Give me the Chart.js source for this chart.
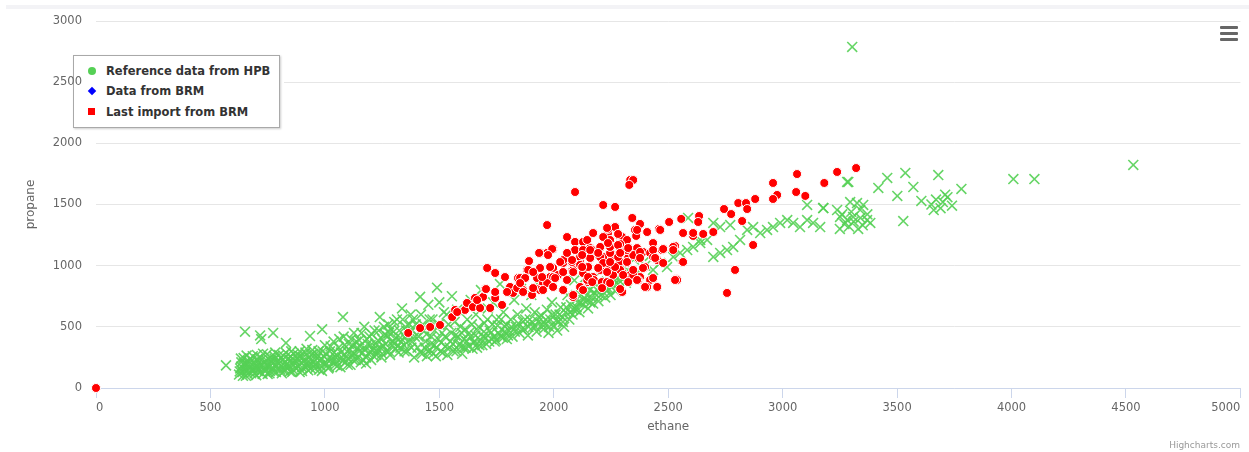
<!DOCTYPE html>
<html>
<head>
<meta charset="utf-8">
<script src="https://cdn.jsdelivr.net/npm/chart.js@4"></script>
<style>
  body { margin: 0; background: #fff; font-family: "DejaVu Sans", sans-serif; }
  #wrap { position: relative; width: 1249px; height: 452px; }
  #chart { position: absolute; left: 0; top: 0; z-index: 1; }
  #topband { position: absolute; left: 6px; right: 0; top: 5px; height: 4px; background: #f3f3f6; }
  #legend {
    position: absolute; left: 73px; top: 55px; width: 205px; height: 71px; z-index: 0;
    border: 1px solid #a9a9a9; background: #fff; box-shadow: 1px 1px 2px rgba(0,0,0,0.2);
    font: bold 11.5px "DejaVu Sans", sans-serif; color: #333;
  }
  .item { position: absolute; left: 14px; height: 16px; line-height: 16px; }
  .item span.sym { position: absolute; left: 0; top: 4px; width: 8px; height: 8px; }
  .item span.txt { position: absolute; left: 18px; white-space: nowrap; }
  #menu { position: absolute; left: 1220px; top: 26px; width: 18px; z-index: 2; }
  #menu div { height: 3px; background: #666; margin-bottom: 3px; border-radius: 1px; }
  #credits { position: absolute; right: 9px; top: 440px; font: 9px "DejaVu Sans", sans-serif; color: #999; z-index: 2; }
</style>
</head>
<body>
<div id="wrap">
  <div id="topband"></div>
  <div id="legend"></div>
  <canvas id="chart" width="1249" height="452"></canvas>
  <div id="menu"><div></div><div></div><div></div></div>
  <div id="credits">Highcharts.com</div>
</div>
<script>
// series names and colours
const seriesNames = ["Reference data from HPB", "Data from BRM", "Last import from BRM"];
const seriesColors = ["#55d055", "#0000ff", "#ff0000"];

// axis ticks
const xTicks = [0, 500, 1000, 1500, 2000, 2500, 3000, 3500, 4000, 4500, 5000];
const yTicks = [0, 500, 1000, 1500, 2000, 2500, 3000];

// [ethane, propane]
const hpbData = [
  [568,185],[651,460],[717,430],[722,400],[774,450],[830,368],[935,425],[988,480],
  [625,110],[630,160],[635,210],[640,130],[645,245],[650,185],[655,100],[660,140],[665,220],[672,170],
  [678,120],[685,260],[690,150],[695,200],[700,105],[705,235],[712,160],[718,130],[725,190],[730,280],
  [738,145],[745,225],[750,115],[757,170],[763,250],[770,200],[776,135],[783,290],[790,180],[797,230],
  [805,150],[812,120],[818,265],[825,205],[832,170],[840,240],[847,135],[853,300],[860,190],[868,225],
  [875,160],[882,270],[890,130],[897,210],[905,250],[912,175],[920,320],[927,145],[935,230],[942,195],
  [950,280],[957,160],[965,245],[972,300],[980,185],[987,140],[995,260],[1000,350],
  [660,190],[700,180],[740,190],[780,240],[820,160],[860,150],[900,170],[940,270],[980,220],[635,175],
  [710,210],[760,140],[800,200],[850,260],[890,300],[930,190],
  [628,135],[633,240],[642,100],[648,205],[653,150],[658,265],[663,115],[668,195],[675,240],[680,150],
  [688,210],[693,120],[698,165],[703,270],[708,140],[715,185],[720,250],[728,115],[733,210],[740,160],
  [747,275],[752,190],[758,120],[765,220],[772,165],[779,260],[786,130],[793,210],[800,270],[808,180],
  [815,230],[822,140],[829,290],[836,200],[843,170],[850,225],[857,130],[864,280],[871,200],[878,240],
  [885,175],[893,260],[900,140],[908,220],[915,290],[923,180],[930,250],[938,160],[945,310],[953,215],
  [960,190],[968,270],[975,150],[983,240],[990,300],[997,200],
  [1008,200],[1015,160],[1022,300],[1030,240],[1038,380],[1045,190],[1052,270],[1060,330],[1068,170],
  [1075,250],[1082,420],[1090,210],[1097,300],[1105,360],[1112,190],[1120,270],[1127,450],[1135,230],
  [1142,330],[1150,390],[1157,210],[1165,290],[1172,500],[1180,250],[1187,360],[1195,420],[1202,230],
  [1210,310],[1217,470],[1225,270],[1232,390],[1240,580],[1247,250],[1255,340],[1262,440],[1270,300],
  [1277,520],[1285,270],[1292,380],[1300,460],[1307,320],[1315,560],[1322,290],[1330,410],[1337,650],
  [1345,350],[1352,500],[1360,300],[1367,440],[1375,600],[1382,380],[1390,250],[1397,520],[1079,580],
  [1050,220],[1100,240],[1150,300],[1200,350],[1250,400],[1300,380],[1350,420],[1120,350],[1180,200],
  [1230,320],[1280,450],[1330,330],[1380,470],
  [1005,280],[1012,230],[1018,170],[1025,340],[1033,210],[1040,290],[1048,250],[1055,180],[1063,400],
  [1070,290],[1078,220],[1085,350],[1093,260],[1100,190],[1108,310],[1115,400],[1123,230],[1130,280],
  [1138,380],[1145,250],[1153,340],[1160,450],[1168,230],[1175,320],[1183,400],[1190,280],[1198,300],
  [1205,440],[1213,260],[1220,360],[1228,300],[1235,470],[1243,330],[1250,280],[1258,500],[1265,360],
  [1273,420],[1280,300],[1288,480],[1295,350],[1303,540],[1310,410],[1318,340],[1325,470],[1333,380],
  [1340,560],[1348,300],[1355,470],[1363,380],[1370,520],[1378,330],[1385,560],[1393,420],
  [1405,330],[1416,745],[1420,600],[1425,280],[1432,470],[1440,380],[1446,260],[1452,680],[1460,310],
  [1465,420],[1470,560],[1478,350],[1485,260],[1490,820],[1495,400],[1500,700],[1505,300],[1512,450],
  [1520,620],[1527,340],[1535,270],[1540,520],[1548,380],[1555,750],[1562,300],[1570,430],[1578,640],
  [1585,350],[1592,500],[1600,280],
  [1410,420],[1418,290],[1428,520],[1436,330],[1444,440],[1450,300],[1458,560],[1463,360],[1473,280],
  [1480,470],[1488,330],[1498,520],[1508,370],[1515,290],[1525,420],[1532,600],[1545,330],[1552,450],
  [1560,360],[1567,540],[1575,300],[1582,420],[1590,360],[1598,450],
  [1608,400],[1615,330],[1622,560],[1630,450],[1637,720],[1645,320],[1652,380],[1660,600],[1667,470],
  [1675,350],[1682,800],[1690,420],[1697,530],[1705,360],[1712,650],[1720,470],[1727,400],[1735,700],
  [1742,380],[1750,560],[1757,450],[1765,850],[1772,420],[1780,620],[1787,500],[1795,400],
  [1605,330],[1612,480],[1620,380],[1628,340],[1635,420],[1642,520],[1650,370],[1658,430],[1665,330],
  [1672,500],[1680,390],[1688,350],[1695,460],[1702,410],[1710,560],[1718,380],[1725,450],[1732,520],
  [1740,420],[1748,390],[1755,510],[1762,440],[1770,560],[1778,410],[1785,460],[1792,520],[1800,430],
  [1805,470],[1812,560],[1820,420],[1827,720],[1835,500],[1842,600],[1850,450],[1857,880],[1865,540],
  [1872,480],[1880,650],[1887,430],[1895,560],[1902,760],[1910,500],[1917,620],[1925,460],[1932,540],
  [1940,830],[1947,590],[1955,480],[1962,520],[1970,640],[1977,450],[1985,560],[1992,700],[2000,510],
  [2008,600],[2015,470],[2022,540],[2030,660],[2038,580],[2045,500],[2052,620],[2060,760],[2068,560],
  [2075,680],[2082,600],[2090,880],[2097,640],
  [1815,500],[1830,460],[1845,530],[1860,480],[1875,560],[1890,500],[1905,540],[1920,500],[1935,580],
  [1950,520],[1965,560],[1980,500],[1995,600],[2010,550],[2025,600],[2040,540],[2055,660],[2070,620],
  [2085,640],[2100,660],[2115,700],[2130,720],[2145,760],[2160,700],[2175,780],[2190,800],[2205,760],
  [2220,820],[2235,800],[2250,860],[2265,880],[2280,850],[2295,920],[2310,940],
  [2105,700],[2112,620],[2120,760],[2128,680],[2135,900],[2142,720],[2150,650],[2158,800],[2165,740],
  [2172,690],[2180,850],[2188,760],[2195,710],[2203,820],[2210,960],[2218,780],[2225,740],[2232,870],
  [2240,810],[2248,760],[2255,900],[2262,840],[2270,790],[2278,960],[2285,880],[2292,830],[2300,1010],
  [2308,900],[2315,860],[2320,883],[2347,907],[2377,940],[2400,1000],[2434,965],[2465,1022],[2495,989],
  [2350,1050],[2420,1080],
  [2522,1071],[2552,1104],[2583,1128],[2609,1153],[2640,1185],[2670,1210],[2697,1071],[2727,1104],
  [2757,1128],[2784,1153],[2814,1210],[2845,1292],[2871,1316],[2902,1267],[2932,1292],[2958,1316],
  [2989,1349],[3020,1373],[3046,1349],[3076,1316],[3107,1373],[3133,1349],[3164,1316],[3177,1471],
  [3238,1455],[3251,1398],[3282,1373],[3308,1398],[3339,1455],[3369,1373],[3295,1520],[3325,1512],
  [3352,1496],[3107,1496],[2587,1390],[2697,1349],[2727,1316],[2771,1332],[2640,1210],[3287,1684],
  [3304,2788],[4532,1823],[4008,1708],[4100,1708],[3680,1741],[3536,1758],[3457,1717],[3571,1643],
  [3501,1570],[3606,1529],[3781,1627],[3418,1635],[3282,1684],[3527,1365],[3383,1349],[3178,1471],
  [3650,1500],[3670,1540],[3690,1470],[3700,1520],[3720,1560],[3740,1490],[3660,1455],[3710,1580],
  [3250,1300],[3270,1340],[3290,1320],[3310,1360],[3330,1300],[3350,1330],[3370,1420],[3260,1420],
  [3300,1440],[3340,1390]
];

const brmData = [];

const lastImportData = [
  [0,0],
  [1364,450],[1416,490],[1460,499],[1503,515],[1556,580],[1569,638],[1612,638],[1621,695],[1647,662],
  [1678,654],[1656,736],[1691,744],[1700,809],[1709,981],[1744,940],[1722,654],[1744,736],[1774,679],
  [1787,907],[1809,826],[1822,777],[1844,891],[1866,801],[1905,760],[1883,965],[1892,1038],[1940,1104],
  [1971,1332],[1997,1136],[1927,899],[1940,817],[1953,858],[1984,907],[1997,981],[2019,924],[2041,801],
  [2058,883],[2080,965],[2085,744],[2058,1234],[2093,1194],[2128,1194],[2115,1030],[2124,1087],[2159,1144],
  [2172,1267],[2128,940],[2150,989],[2172,907],[2203,965],[2225,1046],[2150,866],[2175,883],[2210,866],
  [2093,1602],[2216,1496],[2268,1480],[2237,1267],[2246,1210],[2268,1316],[2281,1251],[2216,1071],
  [2246,1153],[2259,1087],[2290,1030],[2281,1169],[2299,785],
  [2334,1700],[2347,1700],[2330,1660],[2343,1390],[2377,1341],[2408,1275],[2460,1300],[2504,1357],
  [2557,1382],[2635,1406],[2631,1357],[2565,1267],[2609,1243],[2653,1259],[2697,1275],[2530,1161],
  [2478,1136],[2561,1030],[2535,891],[2434,899],[2452,826],[2399,826],[2757,777],[2792,965],[2871,1169],
  [2744,1463],[2775,1422],[2806,1512],[2840,1512],[2845,1463],[2880,1545],[2823,1365],[2958,1676],
  [2976,1578],[2958,1545],[3063,1749],[3059,1602],[3099,1570],[3182,1676],[3238,1766],[3321,1798],
  [2299,1234],[2320,1210],[2355,1292],[2360,1243],[2290,1144],[2325,1144],[2364,1144],[2390,1112],
  [2434,1185],[2473,1128],[2421,1104],[2452,1046],[2325,1063],[2369,1063],[2399,989],[2299,948],
  [2334,924],[2377,907],[2465,1292],[2522,1153],
  [1578,621],[1665,719],[1704,809],[1744,785],[1796,785],[1840,817],[1866,785],[1940,801],[1971,858],
  [1997,907],[2115,826],[2146,883],[2233,866],[2259,924],[2290,965],[2320,1022],[2347,924],[2390,981],
  [2421,883],[2408,826],[2369,883],[2246,989],[2128,989],[2085,965],[2041,1022],[1940,981],[1888,965],
  [1844,899],[1709,981],[2115,1071],[2172,1087],[2259,1071],[2347,1087],[2434,1071],[1971,1104],
  [2539,883],[1936,1104],[1993,1136],[1853,899],[1984,989],[2041,1046],[2080,1030],[2115,1006],
  [2150,989],[2159,1063],[2203,1071],[2216,1022],[2246,1104],[2281,1071],[2320,1128],[2093,1128],
  [2128,1128],[2168,1128],[2203,1153],[2246,1153],[2290,1177],[2146,1210],[2216,1234],[2238,1300],
  [2268,1316],[2281,1259],
  [2364,1292],[2233,1308],[1975,1087],[2028,1030],[2080,1046],[2124,1087],[2159,1128],[2203,1153],
  [2237,1185],[2281,1169],[2325,1144],[2377,1112],[2434,1128],[2478,1136],[2522,1128],[2609,1267],
  [2377,1063],[2443,1063],[2478,1022],[2565,1030],[2530,883],[2434,899],[2399,826],[2452,826],
  [1910,948],[1949,907],[1984,989],[2006,899],[2041,948],[2085,948],[2124,989],[2150,907],[2194,981],
  [2233,948],[2268,989],[2303,924],[2347,965],[1910,817],[1953,801],[1997,826],[2041,801],[2085,760],
  [2128,801],[2168,866],[2211,817],[2246,858],[2290,809],[2325,866],[1875,899],[1853,858],[2194,1104],
  [2290,1104],[2246,1030],[2320,1030],[2058,1104],[2364,883]
];

const legendShapes = ["circle", "diamond", "square"];

// legend in html so it can float inside the plot like the original
const legendBox = document.getElementById("legend");
seriesNames.forEach(function (name, i) {
  let item = document.createElement("div");
  item.className = "item";
  item.style.top = (7 + i * 20.3) + "px";
  let sym = document.createElement("span");
  sym.className = "sym";
  sym.style.background = seriesColors[i];
  if (legendShapes[i] === "circle") sym.style.borderRadius = "50%";
  if (legendShapes[i] === "diamond") sym.style.transform = "rotate(45deg) scale(0.75)";
  if (legendShapes[i] === "square") { sym.style.width = "7px"; sym.style.height = "7px"; }
  let txt = document.createElement("span");
  txt.className = "txt";
  txt.textContent = name;
  item.appendChild(sym);
  item.appendChild(txt);
  legendBox.appendChild(item);
});

// punch a hole in the grid where the legend box sits (legend div is under the canvas)
const legendHole = {
  id: "legendHole",
  beforeDatasetsDraw(chart) {
    chart.ctx.clearRect(72, 54, 212, 78);
  },
};

const toPoints = (arr) => arr.map((p) => ({ x: p[0], y: p[1] }));
const tickFont = { family: "DejaVu Sans", size: 11.5 };
const titleFont = { family: "DejaVu Sans", size: 12 };

new Chart(document.getElementById("chart"), {
  type: "scatter",
  data: {
    datasets: [
      {
        label: seriesNames[0],
        data: toPoints(hpbData),
        pointStyle: "crossRot",
        pointRadius: 7,
        borderWidth: 1.6,
        borderColor: "rgba(85,208,85,0.9)",
        backgroundColor: "rgba(85,208,85,0.9)",
        order: 2,
      },
      {
        label: seriesNames[1],
        data: toPoints(brmData),
        pointStyle: "rectRot",
        pointRadius: 4,
        backgroundColor: seriesColors[1],
        borderColor: seriesColors[1],
        order: 1,
      },
      {
        label: seriesNames[2],
        data: toPoints(lastImportData),
        pointStyle: "circle",
        pointRadius: 4.5,
        borderWidth: 1,
        borderColor: "#ffffff",
        backgroundColor: seriesColors[2],
        clip: false,
        order: 0,
      },
    ],
  },
  plugins: [legendHole],
  options: {
    responsive: false,
    animation: false,
    devicePixelRatio: 1,
    layout: { padding: { top: 21, right: 8, bottom: 12, left: 0 } },
    plugins: { legend: { display: false }, tooltip: { enabled: false } },
    scales: {
      x: {
        type: "linear",
        min: 0,
        max: 5000,
        afterBuildTicks: (s) => { s.ticks = xTicks.map((v) => ({ value: v })); },
        afterFit: (s) => { s.height = 52; },
        grid: { drawOnChartArea: false, drawTicks: true, tickLength: 10, color: "#ccd6eb" },
        border: { color: "#ccd6eb" },
        ticks: { align: "inner", padding: 3, color: "#666", font: tickFont, callback: (v) => String(v) },
        title: { display: true, text: "ethane", color: "#666", padding: { top: 0, bottom: 6 }, font: titleFont },
      },
      y: {
        type: "linear",
        min: 0,
        max: 3000,
        afterBuildTicks: (s) => { s.ticks = yTicks.map((v) => ({ value: v })); },
        afterFit: (s) => { s.width = 96; },
        grid: { color: "#e6e6e6", drawTicks: false },
        border: { display: false },
        ticks: { z: 1, padding: 14, color: "#666", font: tickFont, callback: (v) => String(v) },
        title: { display: true, text: "propane", color: "#666", padding: { top: 24, bottom: 0 }, font: titleFont },
      },
    },
  },
});
</script>
</body>
</html>
